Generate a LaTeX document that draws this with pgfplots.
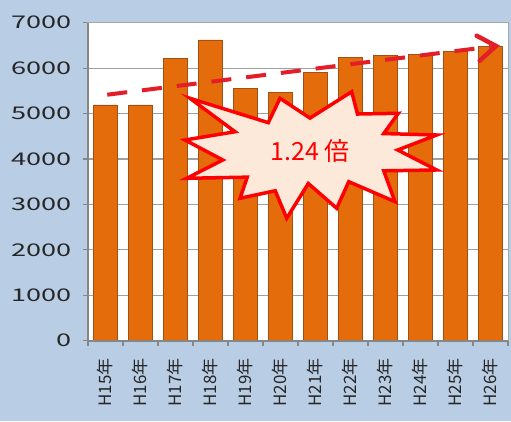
\documentclass[border=0pt]{standalone}
\usepackage{fontspec}
\setmainfont{Noto Sans CJK JP}
\newfontfamily\widefont[FakeStretch=1.55]{Noto Sans CJK JP}
\usepackage{pgfplots}
\pgfplotsset{compat=1.18}
\definecolor{bgblue}{RGB}{185,205,228}
\definecolor{barorange}{RGB}{228,108,10}
\definecolor{barborder}{RGB}{160,80,20}
\definecolor{gridgray}{RGB}{160,160,160}
\definecolor{axgray}{RGB}{134,134,134}
\definecolor{arrowred}{RGB}{228,30,40}
\definecolor{burstfill}{RGB}{253,233,217}
\begin{document}
\begin{tikzpicture}
\useasboundingbox (-88pt,-80.3pt) rectangle (423pt,340.7pt);
\fill[bgblue] (-88pt,-80.3pt) rectangle (423pt,340.7pt);
\begin{scope}
\clip (-88pt,-80.3pt) rectangle (423pt,340.7pt);
\begin{axis}[
  at={(0pt,0pt)}, anchor=south west,
  scale only axis, width=420pt, height=318pt,
  xmin=-0.5, xmax=11.5, ymin=0, ymax=7000,
  axis background/.style={fill=white},
  xtick={0,...,11},
  xticklabels={H15年,H16年,H17年,H18年,H19年,H20年,H21年,H22年,H23年,H24年,H25年,H26年},
  xticklabel style={rotate=90, anchor=east, font=\fontsize{17}{18}\selectfont, text=black!85, xshift=-9pt},
  major x tick style={draw=none},
  minor xtick={-0.5,0.5,...,11.5},
  minor x tick style={axgray, line width=1.2pt},
  minor tick length=5pt,
  ytick={0,1000,...,7000},
  major tick length=5pt,
  tick align=outside,
  y tick style={axgray, line width=1.2pt},
  xtick pos=bottom, ytick pos=left,
  yticklabel style={font=\widefont\fontsize{17.5}{19}\selectfont, text=black!85, xshift=-8pt},
  /pgf/number format/assume math mode=true,
  /pgf/number format/1000 sep={},
  scaled ticks=false,
  ymajorgrids, grid style={gridgray, line width=1.2pt},
  axis line style={gray!70, line width=1pt},
  clip=false,
]
\addplot[ybar, bar width=24pt, fill=barorange, draw=barborder, line width=0.8pt]
  coordinates {(0,5190) (1,5190) (2,6220) (3,6620) (4,5560) (5,5460) (6,5900) (7,6240) (8,6280) (9,6300) (10,6370) (11,6470)};
\draw[axgray, line width=2pt] (rel axis cs:0,0) -- (rel axis cs:0,1);
\draw[axgray, line width=2pt] (rel axis cs:0,0) -- (rel axis cs:1,0);
\draw[arrowred, line width=4pt, dash pattern=on 20pt off 15pt]
  (axis cs:0.05,5415) -- (axis cs:11.0,6472);
\draw[arrowred, line width=4.5pt, line join=miter, line cap=round]
  (axis cs:10.603,6714) -- (axis cs:11.157,6487) -- (axis cs:10.691,6164);
\draw[red, line width=3.5pt, line join=miter, miter limit=20, fill=burstfill]
  (axis cs:2.414,5336) -- (axis cs:4.650,4800) -- (axis cs:4.986,5336)
  -- (axis cs:5.843,4900) -- (axis cs:7.034,5481) -- (axis cs:7.200,4990)
  -- (axis cs:8.366,5006) -- (axis cs:7.950,4560) -- (axis cs:9.463,4528)
  -- (axis cs:8.350,4198) -- (axis cs:9.463,3758) -- (axis cs:7.950,3740)
  -- (axis cs:8.271,3060) -- (axis cs:6.950,3500) -- (axis cs:6.606,2915)
  -- (axis cs:5.794,3460) -- (axis cs:5.177,2694) -- (axis cs:4.850,3300)
  -- (axis cs:3.843,3135) -- (axis cs:4.050,3600) -- (axis cs:2.320,3575)
  -- (axis cs:3.350,3978) -- (axis cs:2.271,4418) -- (axis cs:3.700,4600)
  -- cycle;
\node[text=red, font=\fontsize{25}{27}\selectfont] at (axis cs:5.843,4182) {1.24\hspace{0.2em}倍};
\end{axis}
\end{scope}
\end{tikzpicture}
\end{document}
